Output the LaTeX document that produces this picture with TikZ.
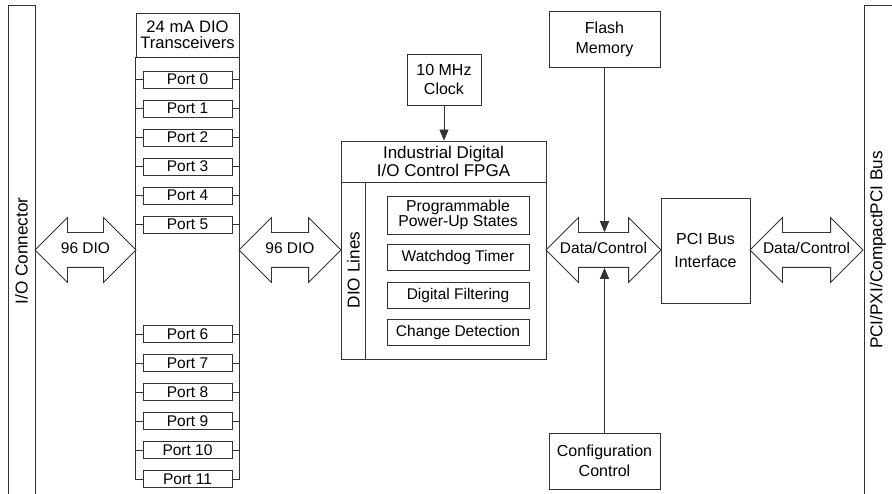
\documentclass[tikz,border=0pt]{standalone}
\usepackage{fontspec}
\setmainfont{Liberation Sans}
\usetikzlibrary{shapes.arrows,arrows.meta}

\def\portx{187.5}
\def\portgap{29}
\def\fs#1#2{\fontsize{#1}{#2}\selectfont}

\begin{document}
\begin{tikzpicture}[x=1pt,y=-1pt,line width=0.8pt,draw=black!80,font=\fs{15.5}{17}]
    \tikzstyle{box}=[draw,rectangle,inner sep=0pt,align=center]
    \tikzstyle{head box}=[box,font=\fs{16.6}{16.2}]
    \tikzstyle{side label}=[rotate=90,font=\fs{17.2}{17}]
    \tikzstyle{port}=[box,minimum width=89pt,minimum height=17pt]
    \tikzstyle{func}=[box,minimum width=142pt,minimum height=26pt]
    \tikzstyle{bus arrow}=[draw,double arrow,double arrow head extend=15pt,inner xsep=0pt,inner ysep=10pt,text height=11pt,text depth=3pt]
    \tikzstyle{feed}=[-{Triangle[length=11pt,width=9pt]}]

    \useasboundingbox (0,0) rectangle (892,494);

    % Connectors at both edges
    \draw (8,494) |- (35,5) -- (35,494);
    \node[side label] (io) at (21.5,251) {I/O Connector};
    \draw (864,494) |- (892,5);
    \node[side label] (bus) at (878,250) {PCI/PXI/CompactPCI Bus};

    % Transceivers with the twelve ports
    \node[head box,minimum width=103pt,minimum height=44pt] (trx) at (\portx,35) {24 mA DIO\\Transceivers};
    \foreach \i in {0,...,5}
        \node[port] (p\i) at (\portx,{79.5+\i*\portgap}) {Port \i};
    \foreach \i in {6,...,11}
        \node[port] (p\i) at (\portx,{334+(\i-6)*\portgap}) {Port \i};
    \draw (trx.south west) |- (p11.west);
    \draw (trx.south east) |- (p11.east);
    \foreach \i in {0,...,10} {
        \draw (p\i.west) -- (p\i.west -| trx.west);
        \draw (p\i.east) -- (p\i.east -| trx.east);
    }

    % FPGA and its functions
    \node[head box,font=\fs{17}{17.4},minimum width=205pt,minimum height=41pt] (fpga) at (443.5,161.5) {Industrial Digital\\I/O Control FPGA};
    \node[box,minimum width=205pt,minimum height=177pt,anchor=north] (core) at (fpga.south) {};
    \draw ([xshift=25pt]core.north west) -- ([xshift=25pt]core.south west);
    \node[side label] (lines) at (353.5,270) {DIO Lines};
    \node[func,minimum height=38pt,font=\fs{15.8}{14.5}] (pus) at (458,215) {Programmable\\Power-Up States};
    \node[func] (wdt) at (458,257) {Watchdog Timer};
    \node[func] (filt) at (458,295) {Digital Filtering};
    \node[func] (chg) at (458,332) {Change Detection};

    \node[box,font=\fs{16}{18.5},minimum width=74pt,minimum height=51pt] (clk) at (444,79.5) {10 MHz\\Clock};
    \node[box,font=\fs{16}{20},minimum width=111pt,minimum height=56pt] (flash) at (604.5,39) {Flash\\Memory};
    \node[box,font=\fs{16}{19.5},minimum width=111pt,minimum height=56pt] (cfg) at (604.5,461) {Configuration\\Control};
    \node[box,font=\fs{16}{23},minimum width=89pt,minimum height=105pt] (pci) at (705.5,250.5) {PCI Bus\\Interface};

    % Bus arrows between the blocks
    \node[bus arrow,minimum height=101pt] (dio1) at (85.5,250) {\makebox[0pt]{96 DIO}};
    \node[bus arrow,minimum height=102pt] (dio2) at (290,250) {\makebox[0pt]{96 DIO}};
    \node[bus arrow,minimum height=115pt] (dc1) at (603.5,250) {\makebox[0pt]{Data/Control}};
    \node[bus arrow,minimum height=113pt] (dc2) at (806.5,250) {\makebox[0pt]{Data/Control}};

    \draw[feed] (clk.south) -- (clk.south |- fpga.north);
    \draw[feed] (flash.south) -- (flash.south |- dc1.north);
    \draw[feed] (cfg.north) -- (cfg.north |- dc1.south);
\end{tikzpicture}
\end{document}
